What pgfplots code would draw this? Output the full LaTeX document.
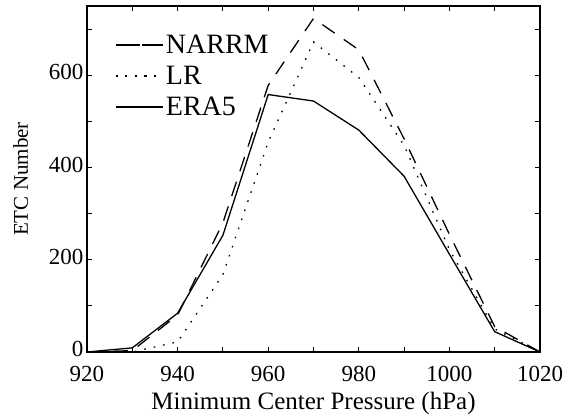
\documentclass[border=0pt]{standalone}
\usepackage{fontspec}
\setmainfont{Liberation Serif}
\usepackage{pgfplots}
\pgfplotsset{compat=1.18}

\begin{document}
\begin{tikzpicture}
\begin{axis}[
    scale only axis,
    width=453bp, height=346bp,
    xmin=920, xmax=1020,
    ymin=0, ymax=750,
    xtick={920,940,...,1020},
    minor xtick={930,950,...,1010},
    ytick={0,200,400,600},
    minor ytick={100,300,500,700},
    tick align=inside,
    major tick length=5bp, minor tick length=5bp,
    tick style={black, line width=1pt},
    axis line style={line width=1.3pt},
    /pgf/number format/assume math mode=true,
    /pgf/number format/1000 sep={},
    ticklabel style={font=\fontsize{23bp}{27bp}\selectfont},
    xticklabel style={yshift=-11bp},
    yticklabel style={yshift=3bp},
    xlabel={Minimum Center Pressure (hPa)},
    ylabel={\fontsize{21bp}{25bp}\selectfont ETC Number},
    xlabel style={font=\fontsize{25bp}{29bp}\selectfont, yshift=-3bp},
    ylabel style={yshift=14bp},
    legend style={at={(0.076,0.928)}, anchor=north west, draw=none, fill=none,
        font=\fontsize{28bp}{32bp}\selectfont, row sep=7bp},
    legend cell align=left,
    legend image code/.code={\path (0bp,0bp) -- (38bp,0bp);
        \draw[#1,overlay] (-9bp,0bp) -- (36bp,0bp);},
    every axis plot/.append style={line width=1.3pt, black, mark=none},
]
\addplot[dash pattern=on 15bp off 11bp] coordinates {
    (920,0) (930,3) (940,80) (950,280) (960,578) (970,723)
    (980,655) (990,462) (1000,255) (1010,55) (1020,0)
};
\addlegendentry{NARRM}
\addplot[dash pattern=on 1.6bp off 8bp] coordinates {
    (920,0) (930,0) (940,22) (950,168) (960,455) (970,672)
    (980,595) (990,448) (1000,222) (1010,50) (1020,0)
};
\addlegendentry{LR}
\addplot[solid] coordinates {
    (920,0) (930,9) (940,84) (950,253) (960,558) (970,544)
    (980,481) (990,381) (1000,212) (1010,44) (1020,0)
};
\addlegendentry{ERA5}
\end{axis}
\path (0bp,0bp) ++(-87bp,-66bp) rectangle ++(567bp,418bp);
\end{tikzpicture}
\end{document}
